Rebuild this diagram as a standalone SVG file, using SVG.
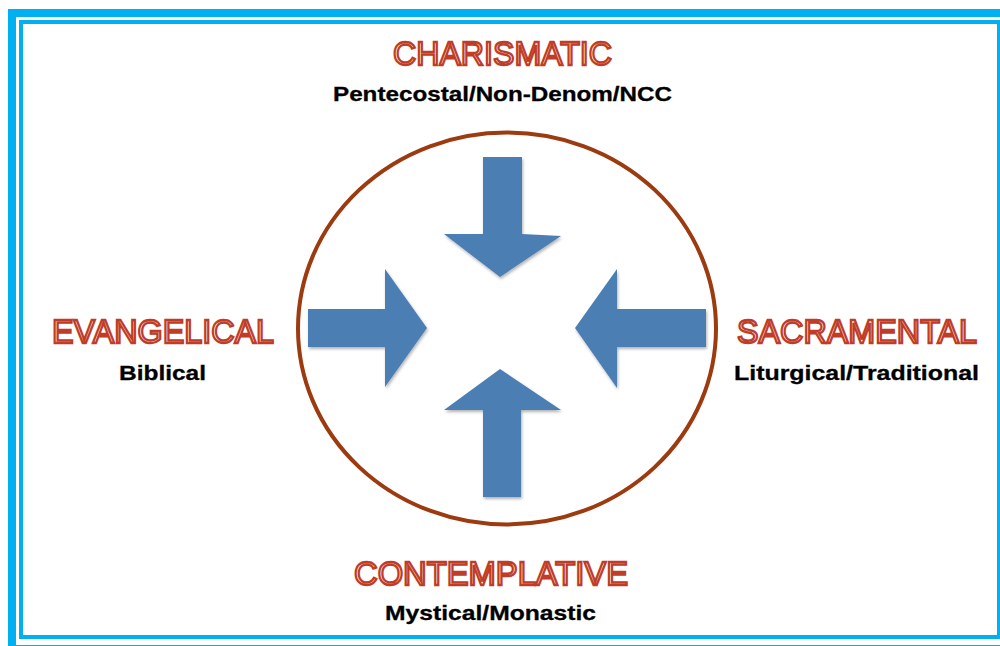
<svg xmlns="http://www.w3.org/2000/svg" width="1000" height="646" viewBox="0 0 1000 646">
  <style>
    .frame { fill: none; stroke: #00b0f0; }
    .title { font-family: "Liberation Sans", Arial, sans-serif; font-size: 34px; fill: #ffffff; stroke: #c03c26; stroke-width: 2.3; stroke-linejoin: miter; text-anchor: middle; }
    .sub { font-family: "Liberation Sans", Arial, sans-serif; font-weight: bold; font-size: 21px; fill: #000000; stroke: #000000; stroke-width: 0.3; text-anchor: middle; }
    .arrow { fill: #4b7eb3; filter: url(#shadow); }
    .ring { fill: none; stroke: #9c3a10; stroke-width: 4; }
  </style>
  <defs>
    <filter id="shadow" x="-20%" y="-20%" width="140%" height="140%">
      <feDropShadow dx="1" dy="2" stdDeviation="1.5" flood-color="#000000" flood-opacity="0.3"/>
    </filter>
  </defs>
  <rect width="1000" height="646" fill="#ffffff"/>
  <g id="frame">
    <rect class="frame" x="12" y="13" width="1000" height="636" stroke-width="8"/>
    <rect class="frame" x="21" y="22" width="978" height="615" stroke-width="4"/>
  </g>
  <g id="circle">
    <ellipse class="ring" cx="507" cy="328.5" rx="209" ry="196"/>
  </g>
  <g id="connectors">
    <polygon class="arrow" points="483,157 522,157 522,234 561,236 500,277 444,234 483,234"/>
    <polygon class="arrow" points="308,309 385,309 385,269 427,328 385,387 385,347 308,347"/>
    <polygon class="arrow" points="706,309 617,309 617,269 575,328 617,388 617,347 706,347"/>
    <polygon class="arrow" points="483,497 521,497 521,410 561,410 500,369 444,410 483,410"/>
  </g>
  <g id="charismatic">
    <text class="title" x="502.5" y="65" textLength="219" lengthAdjust="spacingAndGlyphs">CHARISMATIC</text>
    <text class="sub" x="502.5" y="101" textLength="339" lengthAdjust="spacingAndGlyphs">Pentecostal/Non-Denom/NCC</text>
  </g>
  <g id="evangelical">
    <text class="title" x="163" y="343" textLength="222" lengthAdjust="spacingAndGlyphs">EVANGELICAL</text>
    <text class="sub" x="162.5" y="380" textLength="87" lengthAdjust="spacingAndGlyphs">Biblical</text>
  </g>
  <g id="sacramental">
    <text class="title" x="857" y="343" textLength="240" lengthAdjust="spacingAndGlyphs">SACRAMENTAL</text>
    <text class="sub" x="856.5" y="380" textLength="245" lengthAdjust="spacingAndGlyphs">Liturgical/Traditional</text>
  </g>
  <g id="contemplative">
    <text class="title" x="491" y="585" textLength="274" lengthAdjust="spacingAndGlyphs">CONTEMPLATIVE</text>
    <text class="sub" x="490.5" y="620" textLength="211" lengthAdjust="spacingAndGlyphs">Mystical/Monastic</text>
  </g>
</svg>
